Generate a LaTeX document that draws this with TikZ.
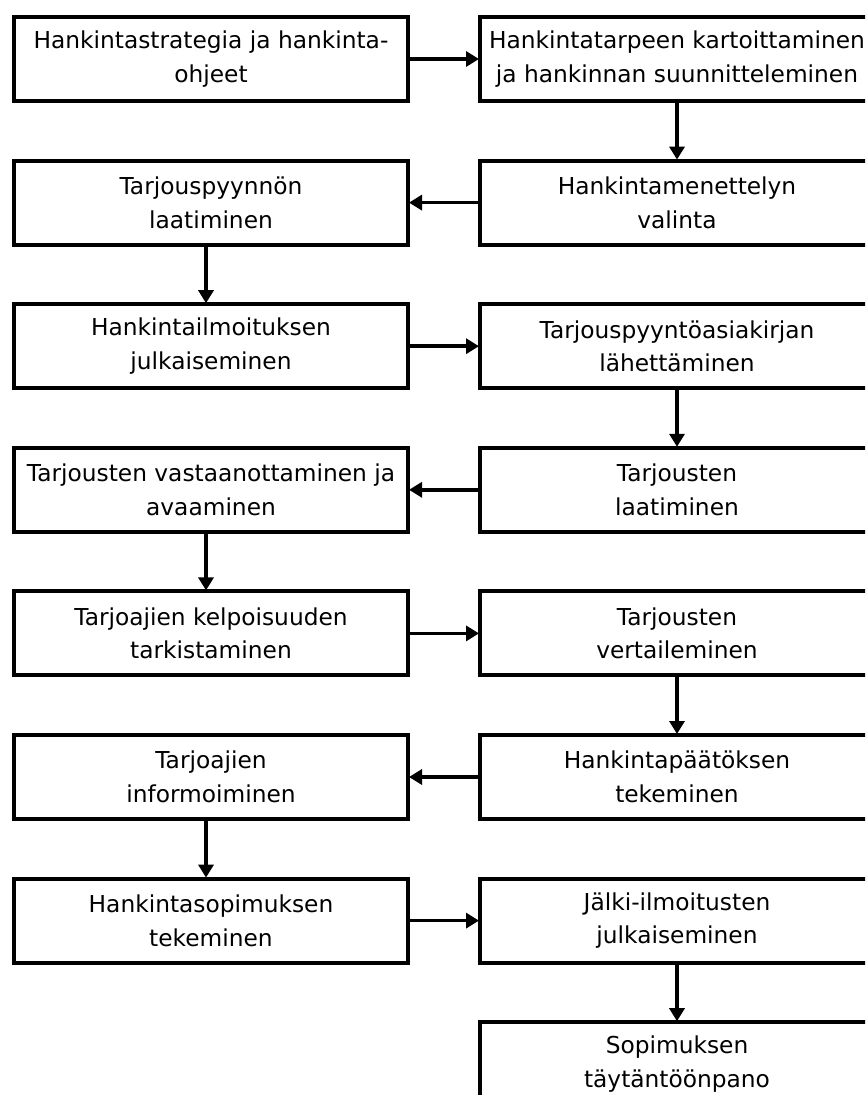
\documentclass[tikz,border=0pt]{standalone}
\usepackage{fontspec}
\setmainfont{DejaVu Sans}
\usetikzlibrary{arrows.meta}
\tikzset{
  stepbox/.style={draw=black, line width=4pt, minimum width=394pt, minimum height=84pt,
    inner sep=0pt, align=center, font=\fontsize{23.3}{33.5}\selectfont,
    execute at begin node={\rule{0pt}{25pt}}},
  arr/.style={draw=black, line width=3.5pt, -{Triangle[length=13pt,width=15pt]}, shorten >=-1pt}
}
\begin{document}
\begin{tikzpicture}[x=1pt,y=-1pt]
\path[use as bounding box, fill=white] (0,0) rectangle (865,1095);
\begin{scope}
\clip (0,0) rectangle (865,1095);
\def\dy{143.6}
\node[stepbox] (L1) at (211,59) {Hankintastrategia ja hankinta-\\ohjeet};
\node[stepbox] (R1) at (677,59) {Hankintatarpeen kartoittaminen\\ja hankinnan suunnitteleminen};
\node[stepbox] (R2) at (677,59+\dy) {Hankintamenettelyn\\valinta};
\node[stepbox] (L2) at (211,59+\dy) {Tarjouspyynnön\\laatiminen};
\node[stepbox] (L3) at (211,59+2*\dy) {Hankintailmoituksen\\julkaiseminen};
\node[stepbox] (R3) at (677,59+2*\dy) {Tarjouspyyntöasiakirjan\\lähettäminen};
\node[stepbox] (R4) at (677,59+3*\dy) {Tarjousten\\laatiminen};
\node[stepbox] (L4) at (211,59+3*\dy) {Tarjousten vastaanottaminen ja\\avaaminen};
\node[stepbox] (L5) at (211,59+4*\dy) {Tarjoajien kelpoisuuden\\tarkistaminen};
\node[stepbox] (R5) at (677,59+4*\dy) {Tarjousten\\vertaileminen};
\node[stepbox] (R6) at (677,59+5*\dy) {Hankintapäätöksen\\tekeminen};
\node[stepbox] (L6) at (211,59+5*\dy) {Tarjoajien\\informoiminen};
\node[stepbox] (L7) at (211,59+6*\dy) {Hankintasopimuksen\\tekeminen};
\node[stepbox] (R7) at (677,59+6*\dy) {Jälki-ilmoitusten\\julkaiseminen};
\node[stepbox] (R8) at (677,59+7*\dy) {Sopimuksen\\täytäntöönpano};

\draw[arr] (L1) -- (R1);
\draw[arr] (R1) -- (R2);
\draw[arr] (R2) -- (L2);
\draw[arr] ([xshift=-5pt]L2.south) -- ([xshift=-5pt]L3.north);
\draw[arr] (L3) -- (R3);
\draw[arr] (R3) -- (R4);
\draw[arr] (R4) -- (L4);
\draw[arr] ([xshift=-5pt]L4.south) -- ([xshift=-5pt]L5.north);
\draw[arr] (L5) -- (R5);
\draw[arr] (R5) -- (R6);
\draw[arr] (R6) -- (L6);
\draw[arr] ([xshift=-5pt]L6.south) -- ([xshift=-5pt]L7.north);
\draw[arr] (L7) -- (R7);
\draw[arr] (R7) -- (R8);
\end{scope}
\end{tikzpicture}
\end{document}
